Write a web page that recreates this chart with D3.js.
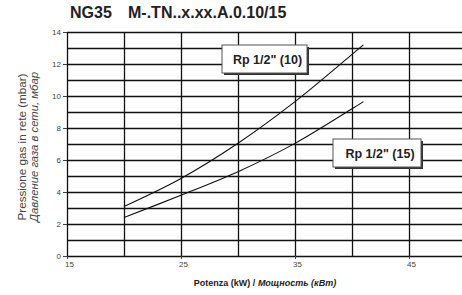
<!DOCTYPE html>
<html>
<head>
<meta charset="utf-8">
<script src="https://cdn.jsdelivr.net/npm/d3@7"></script>
<style>
  body { margin: 0; background: #fff; }
  svg { display: block; overflow: hidden; font-family: "Liberation Sans", Arial, sans-serif; }
  .grid line { stroke: #111; stroke-width: 1.3; }
  .grid .domain { display: none; }
  .lbl text { fill: #444; font-size: 8px; }
  .lbl line { stroke: #444; }
  .lbl .domain { display: none; }
</style>
</head>
<body>
<svg width="462" height="295"></svg>
<script>
  const powerKw = [20, 25, 30, 35, 40, 41];
  const rp10 = [3.1, 4.85, 7.05, 9.65, 12.6, 13.2];
  const rp15 = [2.4, 3.8, 5.27, 7.04, 9.2, 9.65];
  const xTickLabels = [15, 25, 35, 45];
  const yTickLabels = [0, 2, 4, 6, 8, 10, 12, 14];
  const seriesNames = ['Rp 1/2" (10)', 'Rp 1/2" (15)'];

  (function () {
    const svg = d3.select("svg");
    const plotLeft = 67, plotTop = 32, plotBottom = 256, plotRight = 466;

    const x = d3.scaleLinear().domain([15, 50]).range([plotLeft, plotRight]);
    const y = d3.scaleLinear().domain([0, 14]).range([plotBottom, plotTop]);

    // horizontal grid every 1 mbar
    svg.append("g")
      .attr("class", "grid")
      .attr("transform", `translate(${plotLeft},0)`)
      .call(d3.axisLeft(y).tickValues(d3.range(0, 15)).tickSize(-(plotRight - plotLeft)).tickFormat(""));

    // vertical grid every 5 kW
    svg.append("g")
      .attr("class", "grid")
      .attr("transform", `translate(0,${plotTop})`)
      .call(d3.axisBottom(x).tickValues(d3.range(15, 55, 5)).tickSize(plotBottom - plotTop).tickFormat(""));

    // tick labels
    svg.append("g")
      .attr("class", "lbl")
      .attr("transform", `translate(${plotLeft},0)`)
      .call(d3.axisLeft(y).tickValues(yTickLabels).tickSize(4).tickPadding(2));

    svg.append("g")
      .attr("class", "lbl")
      .attr("transform", `translate(0,${plotBottom})`)
      .call(d3.axisBottom(x).tickValues(xTickLabels).tickSize(3).tickPadding(2))
      .selectAll("text").attr("dx", 2);

    // curves
    const line = d3.line()
      .x((d) => x(d[0]))
      .y((d) => y(d[1]))
      .curve(d3.curveCatmullRom);

    [rp10, rp15].forEach((vals) => {
      svg.append("path")
        .attr("d", line(powerKw.map((p, i) => [p, vals[i]])))
        .attr("fill", "none")
        .attr("stroke", "#111")
        .attr("stroke-width", 1.1);
    });

    // label boxes
    const boxes = [
      { name: seriesNames[0], x0: 222, y0: 45, w: 85, h: 28 },
      { name: seriesNames[1], x0: 333, y0: 139, w: 88, h: 28 }
    ];
    boxes.forEach((b) => {
      svg.append("rect")
        .attr("x", b.x0 + 2).attr("y", b.y0 + 2)
        .attr("width", b.w).attr("height", b.h)
        .attr("fill", "#333");
      svg.append("rect")
        .attr("x", b.x0).attr("y", b.y0)
        .attr("width", b.w).attr("height", b.h)
        .attr("fill", "#fff").attr("stroke", "#555").attr("stroke-width", 1);
      svg.append("text")
        .attr("x", b.x0 + b.w / 2 + 3).attr("y", b.y0 + b.h / 2 + 4.5)
        .attr("text-anchor", "middle")
        .attr("font-size", 12.5).attr("font-weight", "bold")
        .attr("fill", "#222")
        .text(b.name);
    });

    // title
    svg.append("text")
      .attr("x", 70).attr("y", 18)
      .attr("font-size", 16).attr("font-weight", "bold")
      .attr("fill", "#222")
      .text("NG35");
    svg.append("text")
      .attr("x", 128).attr("y", 18)
      .attr("font-size", 16).attr("font-weight", "bold")
      .attr("fill", "#222")
      .text("M-.TN..x.xx.A.0.10/15");

    // x axis title
    const xt = svg.append("text")
      .attr("x", 265).attr("y", 286)
      .attr("text-anchor", "middle")
      .attr("font-size", 9).attr("font-weight", "bold")
      .attr("fill", "#222");
    xt.append("tspan").text("Potenza (kW) / ");
    xt.append("tspan").attr("font-style", "italic").text("Мощность (кВт)");

    // y axis title
    const yt = svg.append("g").attr("transform", "translate(0,147) rotate(-90)");
    yt.append("text")
      .attr("x", 0).attr("y", 26)
      .attr("text-anchor", "middle")
      .attr("font-size", 11).attr("fill", "#444")
      .attr("textLength", 147).attr("lengthAdjust", "spacingAndGlyphs")
      .text("Pressione gas in rete (mbar)");
    yt.append("text")
      .attr("x", 0).attr("y", 38)
      .attr("text-anchor", "middle")
      .attr("font-size", 11).attr("font-style", "italic").attr("fill", "#444")
      .attr("textLength", 150).attr("lengthAdjust", "spacingAndGlyphs")
      .text("Давление газа в сети, мбар");
  })();
</script>
</body>
</html>
